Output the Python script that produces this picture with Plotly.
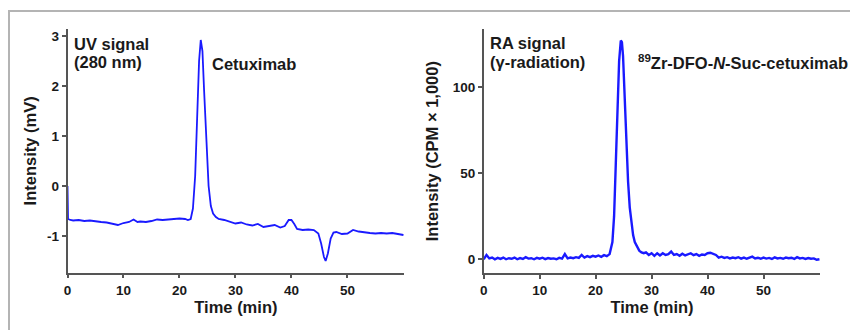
import plotly.graph_objects as go

# ---------------- data ----------------
uv_time = [0, 0.1, 0.5, 1, 2, 3, 4, 5, 6, 7, 8, 9, 10, 11, 11.8, 12.5, 13, 14, 15, 16,
           17, 18, 19, 20, 21, 21.5, 22, 22.4, 22.8, 23.2, 23.5, 23.8, 24.1, 24.4, 24.8,
           25.2, 25.6, 26, 26.5, 27, 28, 29, 30, 31, 32, 33, 34, 35, 36, 37, 38, 38.8,
           39.5, 40, 40.5, 41, 42, 43, 44, 44.8, 45.3, 45.8, 46.1, 46.5, 47, 47.5, 48,
           49, 50, 51, 52, 53, 54, 55, 56, 57, 58, 59, 60]
uv_signal = [0, -0.66, -0.68, -0.69, -0.68, -0.70, -0.69, -0.71, -0.72, -0.73, -0.75,
             -0.78, -0.74, -0.72, -0.67, -0.72, -0.71, -0.72, -0.70, -0.67, -0.68, -0.67,
             -0.66, -0.65, -0.66, -0.68, -0.66, -0.45, 0.2, 1.5, 2.5, 2.92, 2.7, 1.9, 0.8,
             0.0, -0.4, -0.55, -0.62, -0.66, -0.68, -0.72, -0.75, -0.73, -0.77, -0.79,
             -0.76, -0.82, -0.80, -0.78, -0.83, -0.80, -0.68, -0.68, -0.76, -0.86, -0.88,
             -0.87, -0.88, -0.95, -1.15, -1.42, -1.50, -1.35, -1.05, -0.93, -0.92, -0.96,
             -0.95, -0.88, -0.91, -0.93, -0.94, -0.95, -0.94, -0.95, -0.94, -0.96, -0.98]

ra_time = [0, 0.5, 1, 1.5, 2, 2.5, 3, 3.5, 4, 4.5, 5, 5.5, 6, 6.5, 7, 7.5, 8, 8.5, 9, 9.5,
           10, 10.5, 11, 11.5, 12, 12.5, 13, 13.5, 14, 14.5, 15, 15.5, 16, 16.5, 17, 17.5,
           18, 18.5, 19, 19.5, 20, 20.5, 21, 21.5, 22, 22.5, 23, 23.3, 23.6, 23.9, 24.2,
           24.5, 24.7, 24.9, 25.2, 25.5, 25.8, 26.1, 26.4, 26.7, 27, 27.4, 27.8, 28.2,
           28.6, 29, 29.5, 30, 30.5, 31, 31.5, 32, 32.5, 33, 33.5, 34, 34.5, 35, 35.5, 36,
           36.5, 37, 37.5, 38, 38.5, 39, 39.5, 40, 40.5, 41, 41.5, 42, 42.5, 43, 43.5, 44,
           44.5, 45, 45.5, 46, 46.5, 47, 47.5, 48, 48.5, 49, 49.5, 50, 50.5, 51, 51.5, 52,
           52.5, 53, 53.5, 54, 54.5, 55, 55.5, 56, 56.5, 57, 57.5, 58, 58.5, 59, 59.5, 60]
ra_signal = [0, 2.5, 0.5, 1, 0, 0.8, 0.2, 1, 0, 0.6, 0.3, 1, 0, 0.7, 0.2, 1.2, 0.4, 0.6,
             0, 0.8, 0.3, 0.9, 0.1, 0.7, 0.3, 0.5, 0, 0.8, 0.4, 3, 0.5, 1, 0.6, 1.2, 0.8,
             2.5, 1, 1.8, 1.2, 2, 1.5, 2.2, 1.4, 2.4, 1.8, 3, 10, 25, 55, 90, 115, 127, 126,
             118, 95, 65, 45, 30, 20, 14, 10, 7, 5, 4, 3.5, 4, 2.5, 3.5, 2, 3.5, 2.2, 3.5,
             2.5, 3, 4.5, 2.5, 3, 2, 3.2, 2.2, 3, 3.5, 2.4, 3, 2, 2.8, 2.5, 3.5, 3.8, 3,
             2.5, 1, 1.5, 0.8, 1.2, 0.5, 1, 0.6, 1.2, 0.4, 1, 0.3, 0.8, 1.5, 0.5, 0.9, 0.3,
             1, 0.4, 0.8, 0.2, 1.1, 0.5, 0.8, 0.3, 1, 0.6, 0.9, 0.2, 1.2, 0.5, 0.8, 0.2,
             0.7, 0.3, 0.5, -0.3, 0]

x_ticks = [0, 10, 20, 30, 40, 50]
uv_ticks = [-1, 0, 1, 2, 3]
uv_tick_labels = ["-1", "0", "1", "2", "3"]
ra_ticks = [0, 50, 100]

# ---------------- figure ----------------
# the page body adds an 8 px offset, so the figure is drawn 8 px smaller
OFF = 8
W, H = 858 - OFF, 330 - OFF
BLUE = "#1a1aff"
FONT = "Liberation Sans"
TXT = "#1a1a1a"

fig = go.Figure()
fig.add_trace(go.Scatter(x=uv_time, y=uv_signal, mode="lines",
                         line=dict(color=BLUE, width=1.8), xaxis="x", yaxis="y",
                         showlegend=False))
fig.add_trace(go.Scatter(x=ra_time, y=ra_signal, mode="lines",
                         line=dict(color=BLUE, width=2.4), xaxis="x2", yaxis="y2",
                         showlegend=False))


def px_x(p):
    return (p - OFF) / W


def px_y(p):
    return (H - (p - OFF)) / H


axis_common = dict(showline=True, linecolor="#555555", linewidth=1.5, showgrid=False,
                   zeroline=False, ticks="outside", ticklen=4, tickwidth=1.5,
                   tickcolor="#555555", automargin=False,
                   tickfont=dict(family=FONT, size=13.5, color=TXT, weight="bold"))
title_font = dict(family=FONT, size=16.5, color=TXT, weight="bold")

fig.update_layout(
    width=W, height=H,
    margin=dict(l=0, r=0, t=0, b=0),
    paper_bgcolor="white", plot_bgcolor="white",
    font=dict(family=FONT, color=TXT),
    xaxis=dict(domain=[px_x(67.5), px_x(404.3)], range=[0, 60.15], tickvals=x_ticks,
               anchor="y",
               title=dict(text="Time (min)", standoff=4, font=title_font),
               **axis_common),
    yaxis=dict(domain=[px_y(272.7), px_y(29)], range=[-1.734, 3.14], tickvals=uv_ticks,
               ticktext=uv_tick_labels, anchor="x",
               title=dict(text="Intensity (mV)", standoff=6, font=title_font),
               **axis_common),
    xaxis2=dict(domain=[px_x(483.7), px_x(820.3)], range=[0, 60.15], tickvals=x_ticks,
                anchor="y2",
                title=dict(text="Time (min)", standoff=4, font=title_font),
                **axis_common),
    yaxis2=dict(domain=[px_y(273), px_y(29.3)], range=[-7.97, 133.5], tickvals=ra_ticks,
                anchor="x2",
                title=dict(text="Intensity (CPM × 1,000)", standoff=10, font=title_font),
                **axis_common),
)

# frame around the figure panel
fig.add_shape(type="rect", xref="paper", yref="paper",
              x0=px_x(9), x1=1.02, y0=-0.05, y1=px_y(11),
              line=dict(color="#b4b4b4", width=2), fillcolor="rgba(0,0,0,0)")

ann_font = dict(family=FONT, size=16.5, color=TXT)
labels = [
    (72, 44, "<b>UV signal</b>"),
    (72, 62, "<b>(280 nm)</b>"),
    (210, 64, "<b>Cetuximab</b>"),
    (487.7, 43, "<b>RA signal</b>"),
    (487.7, 61.5, "<b>(γ-radiation)</b>"),
    (635.7, 62, "<b><sup>89</sup>Zr-DFO-<i>N</i>-Suc-cetuximab</b>"),
]
for x, y, t in labels:
    fig.add_annotation(x=px_x(x), y=px_y(y), xref="paper", yref="paper", text=t,
                       showarrow=False, xanchor="left", yanchor="middle", font=ann_font)

fig.write_html("out.html")
